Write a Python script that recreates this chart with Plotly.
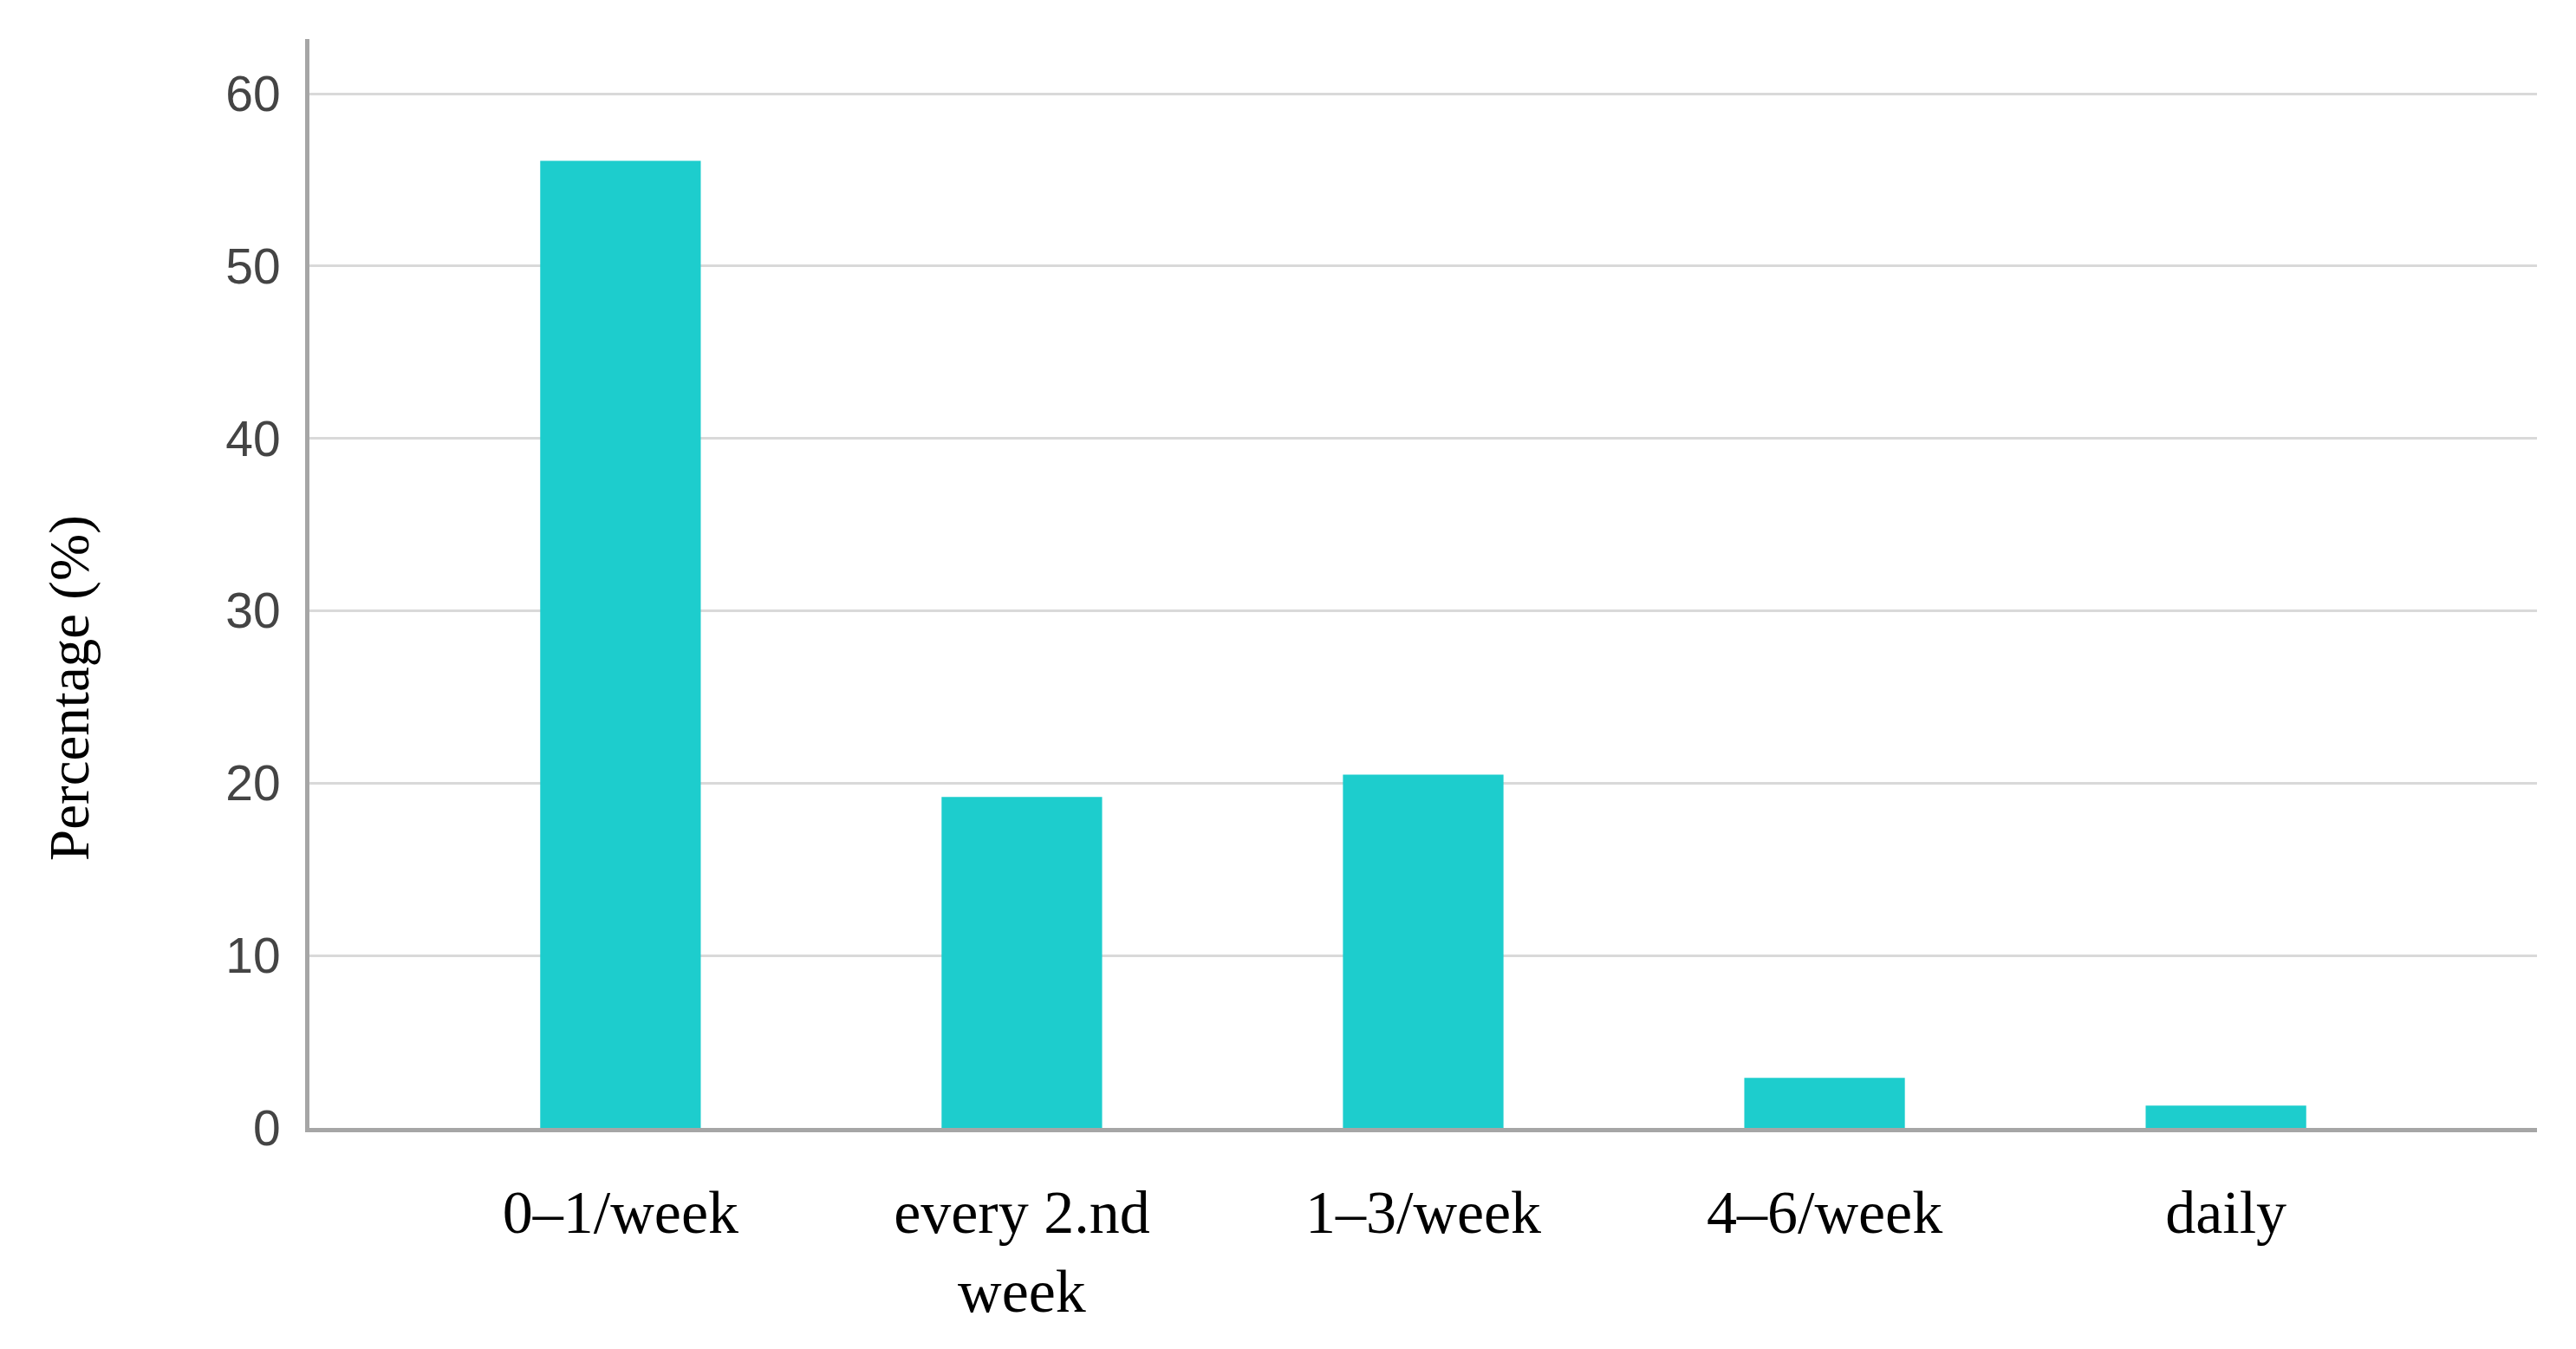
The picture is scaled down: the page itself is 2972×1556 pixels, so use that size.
import plotly.graph_objects as go

categories = ["0–1/week", "every 2.nd<br>week", "1–3/week", "4–6/week", "daily"]
percentages = [56.1, 19.2, 20.5, 2.9, 1.3]
y_ticks = [0, 10, 20, 30, 40, 50, 60]

_BAR = "#1DCDCD"
_GRID = "#D9D9D9"
_AXIS = "#A6A6A6"
_SERIF = "Liberation Serif, Times New Roman, serif"
_SANS = "Liberation Sans, Arial, sans-serif"

fig = go.Figure()
fig.add_trace(go.Bar(
    x=list(range(len(categories))), y=percentages,
    marker=dict(color=_BAR, line_width=0),
    hoverinfo="skip",
))

fig.update_layout(
    width=2972, height=1556,
    paper_bgcolor="#FFFFFF", plot_bgcolor="#FFFFFF",
    margin=dict(l=349, r=53, t=37, b=263),
    bargap=0.6,
    showlegend=False,
    xaxis=dict(
        range=[-0.775, 4.775],
        tickmode="array", tickvals=list(range(len(categories))), ticktext=categories,
        showgrid=False, zeroline=False,
        showline=True, linecolor=_AXIS, linewidth=5,
        ticks="", ticklabelstandoff=32,
        tickfont=dict(family=_SERIF, size=70, color="#000000"),
    ),
    yaxis=dict(
        range=[0, 63.17],
        tickmode="array", tickvals=y_ticks,
        showgrid=True, gridcolor=_GRID, gridwidth=3,
        zeroline=False,
        showline=True, linecolor=_AXIS, linewidth=5,
        ticks="", ticklabelstandoff=17,
        tickfont=dict(family=_SANS, size=57, color="#444444"),
    ),
    annotations=[dict(
        text="Percentage (%)", textangle=-90,
        xref="paper", yref="paper", x=-0.108, y=0.404, xanchor="center", yanchor="middle",
        showarrow=False, font=dict(family=_SERIF, size=65, color="#000000"),
    )],
)

fig.write_html("out.html")
